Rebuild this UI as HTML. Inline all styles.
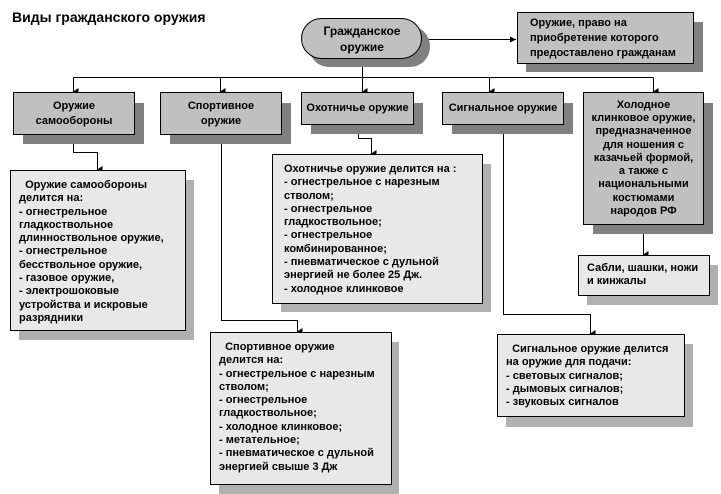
<!DOCTYPE html>
<html><head><meta charset="utf-8"><style>
body{margin:0;width:721px;height:494px;background:#fff;position:relative;overflow:hidden;font-family:"Liberation Sans",Arial,sans-serif;font-weight:bold;font-size:11px;color:#000}
.b{position:absolute;box-sizing:border-box;border:1px solid #000;line-height:13.3px}
.s{position:absolute}
.h{background:#c0c0c0;text-align:center;display:flex;align-items:center;justify-content:center}
.d{background:#e8e8e8;padding:8px 0 0 8px}
</style></head><body>
<div style="position:absolute;left:12px;top:9px;font-size:14px">Виды гражданского оружия</div>
<svg width="721" height="494" style="position:absolute;left:0;top:0">
<defs><marker id="a" markerWidth="8" markerHeight="8" refX="4" refY="7" orient="auto" markerUnits="userSpaceOnUse"><path d="M0,2 L8,2 L4,8z" fill="#000"/></marker>
<marker id="r" markerWidth="8" markerHeight="8" refX="7" refY="4" orient="0" markerUnits="userSpaceOnUse"><path d="M1,1 L7,4 L1,7z" fill="#000"/></marker></defs>
<g fill="none" stroke="#000" stroke-width="1">
<path d="M422.5,39.5 H516" marker-end="url(#r)"/>
<path d="M362.5,58 V77.5"/>
<path d="M73.5,77.5 H653.5"/>
<path d="M73.5,77.5 V92" marker-end="url(#a)"/>
<path d="M220.5,77.5 V92" marker-end="url(#a)"/>
<path d="M362.5,77.5 V92" marker-end="url(#a)"/>
<path d="M489.5,77.5 V92" marker-end="url(#a)"/>
<path d="M653.5,77.5 V92" marker-end="url(#a)"/>
<path d="M73.5,134 V152.5 H97.5 V170" marker-end="url(#a)"/>
<path d="M221.5,134 V320.5 H297.5 V332" marker-end="url(#a)"/>
<path d="M358.5,124 V138.5 H371.5 V154" marker-end="url(#a)"/>
<path d="M503.5,124 V314.5 H590.5 V334" marker-end="url(#a)"/>
<path d="M643.5,224 V255" marker-end="url(#a)"/>
</g>
<rect x="309" y="26" width="121" height="41" rx="20" fill="#808080"/>
<rect x="301.5" y="18.5" width="120" height="40" rx="20" fill="#c0c0c0" stroke="#000"/>
<text x="362" y="35" text-anchor="middle" font-family="Liberation Sans,sans-serif" font-weight="bold" font-size="12">Гражданское</text>
<text x="362" y="51" text-anchor="middle" font-family="Liberation Sans,sans-serif" font-weight="bold" font-size="12">оружие</text>
</svg>
<div class="s" style="left:526px;top:22px;width:177px;height:50px;background:#808080"></div>
<div class="b h" style="left:517px;top:12px;width:177px;height:52px;text-align:left;justify-content:flex-start;padding-left:12px;line-height:15px">Оружие, право на<br>приобретение которого<br>предоставлено гражданам</div>

<div class="s" style="left:23px;top:103px;width:121px;height:41px;background:#808080"></div>
<div class="b h" style="left:13px;top:92px;width:122px;height:43px;line-height:15px">Оружие<br>самообороны</div>
<div class="s" style="left:170px;top:103px;width:121px;height:41px;background:#808080"></div>
<div class="b h" style="left:160px;top:92px;width:122px;height:43px;line-height:15px">Спортивное<br>оружие</div>
<div class="s" style="left:311px;top:103px;width:112px;height:31px;background:#808080"></div>
<div class="b h" style="left:301px;top:92px;width:113px;height:33px">Охотничье оружие</div>
<div class="s" style="left:452px;top:103px;width:121px;height:31px;background:#808080"></div>
<div class="b h" style="left:442px;top:92px;width:122px;height:33px">Сигнальное оружие</div>
<div class="s" style="left:593px;top:103px;width:120px;height:131px;background:#808080"></div>
<div class="b h" style="left:583px;top:92px;width:121px;height:133px">Холодное<br>клинковое оружие,<br>предназначенное<br>для ношения с<br>казачьей формой,<br>а также с<br>национальными<br>костюмами<br>народов РФ</div>

<div class="s" style="left:19px;top:180px;width:175px;height:160px;background:#b0b0b0"></div>
<div class="b d" style="left:10px;top:170px;width:176px;height:161px">&nbsp;&nbsp;Оружие самообороны<br>делится на:<br>- огнестрельное<br>гладкоствольное<br>длинноствольное оружие,<br>- огнестрельное<br>бесствольное оружие,<br>- газовое оружие,<br>- электрошоковые<br>устройства и искровые<br>разрядники</div>

<div class="s" style="left:281px;top:164px;width:210px;height:148px;background:#b0b0b0"></div>
<div class="b d" style="left:272px;top:154px;width:211px;height:150px;padding-left:11px">Охотничье оружие делится на :<br>- огнестрельное с нарезным<br>стволом;<br>- огнестрельное<br>гладкоствольное;<br>- огнестрельное<br>комбинированное;<br>- пневматическое с дульной<br>энергией не более 25 Дж.<br>- холодное клинковое</div>

<div class="s" style="left:219px;top:342px;width:180px;height:152px;background:#b0b0b0"></div>
<div class="b d" style="left:210px;top:332px;width:182px;height:153px">&nbsp;&nbsp;Спортивное оружие<br>делится на:<br>- огнестрельное с нарезным<br>стволом;<br>- огнестрельное<br>гладкоствольное;<br>- холодное клинковое;<br>- метательное;<br>- пневматическое с дульной<br>энергией свыше 3 Дж</div>

<div class="s" style="left:506px;top:344px;width:187px;height:83px;background:#b0b0b0"></div>
<div class="b d" style="left:497px;top:334px;width:188px;height:83px">&nbsp;&nbsp;Сигнальное оружие делится<br>на оружие для подачи:<br>- световых сигналов;<br>- дымовых сигналов;<br>- звуковых сигналов</div>

<div class="s" style="left:587px;top:265px;width:131px;height:40px;background:#b0b0b0"></div>
<div class="b d" style="left:578px;top:255px;width:132px;height:41px;padding-top:6px">Сабли, шашки, ножи<br>и кинжалы</div>
</body></html>
